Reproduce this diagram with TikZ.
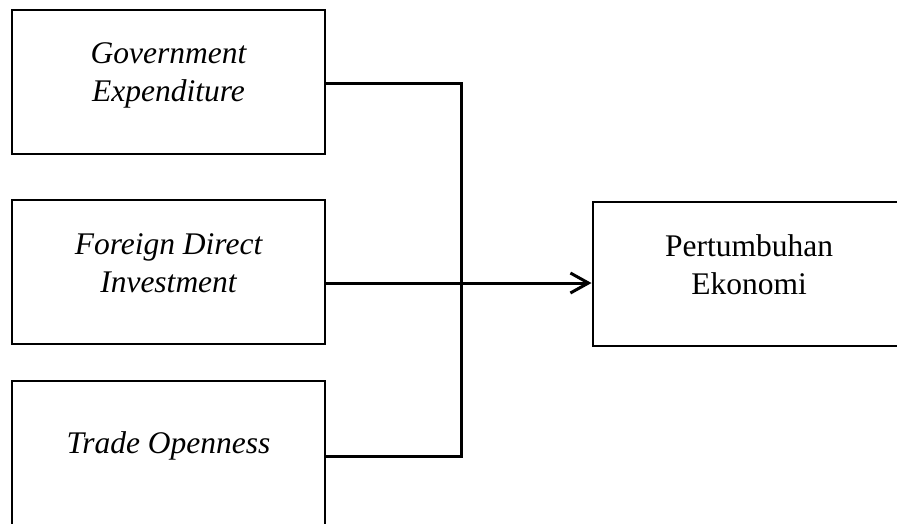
\documentclass[tikz,border=0pt]{standalone}
\usepackage{fontspec}
\setmainfont{Liberation Serif}
\usepackage{tikz}
\usetikzlibrary{arrows.meta,positioning}

\begin{document}
\begin{tikzpicture}
[
x=1pt, y=-1pt,
box/.style={rectangle, draw=black, line width=2pt, minimum width=313pt, minimum height=144pt, inner sep=0},
label_txt/.style={align=center, inner sep=0, font=\fontsize{31.5}{38}\selectfont},
link/.style={draw=black, line width=3pt},
arr/.style={link, -{Straight Barb[length=18pt, width=20pt, line width=3pt]}}
]
\useasboundingbox (0,0) rectangle (897,523);
\clip (0,0) rectangle (897,523);

%Nodes
\node[box]    (gov)     at (168.5,82)    {};
\node[box]    (fdi)     at (168.5,271.5) {};
\node[box]    (trade)   at (168.5,452.5) {};
\node[box]    (growth)  at (749,273.5)   {};

\node[label_txt] (gov_t)    at ([yshift=7]gov.center)    {\itshape Government\\\itshape Expenditure};
\node[label_txt] (fdi_t)    at ([yshift=8]fdi.center)     {\itshape Foreign Direct\\\itshape Investment};
\node[label_txt] (trade_t)  at ([yshift=7]trade.center)   {\itshape Trade Openness};
\node[label_txt] (growth_t) at ([yshift=9]growth.center) {Pertumbuhan\\Ekonomi};

%Lines
\coordinate (bus_top) at (461,83);
\coordinate (bus_mid) at (461,283);
\coordinate (bus_bot) at (461,456);

\draw[link] (gov.east |- bus_top) -- (bus_top) -- (bus_bot) -- (trade.east |- bus_bot);
\draw[link] (fdi.east |- bus_mid) -- (bus_mid);
\draw[arr]  (bus_mid) -- (growth.west |- bus_mid);

\end{tikzpicture}
\end{document}
